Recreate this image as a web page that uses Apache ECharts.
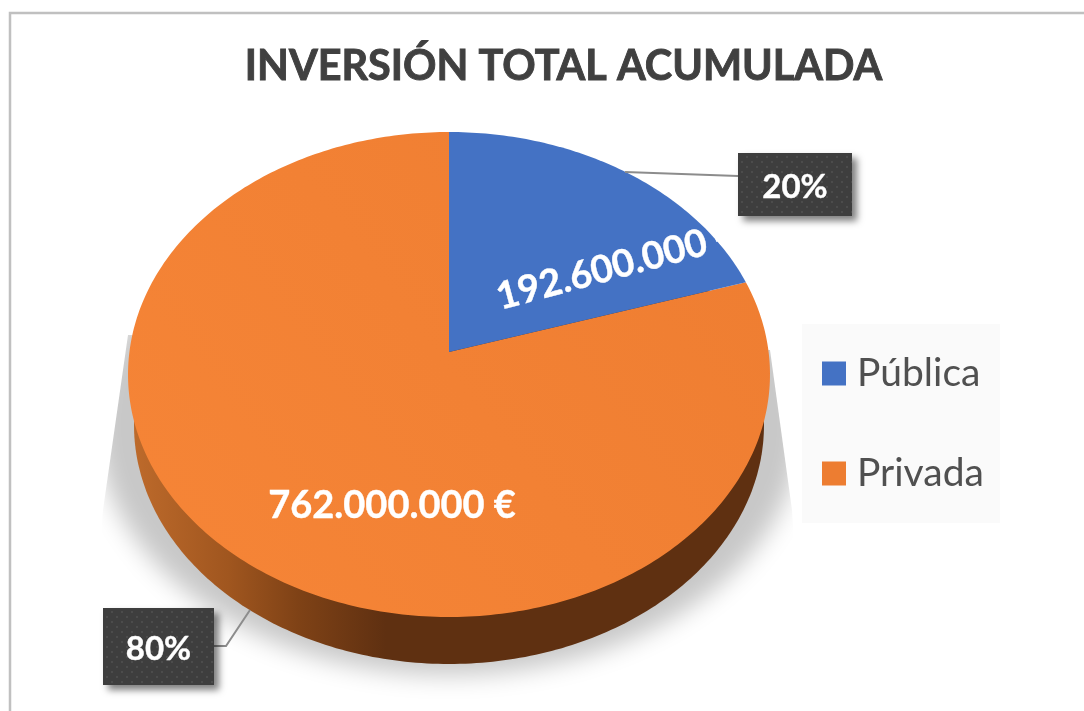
<!DOCTYPE html>
<html><head><meta charset="utf-8">
<style>html,body{margin:0;padding:0;background:#fff}#c{width:1084px;height:711px}</style>
<script src="https://cdn.jsdelivr.net/npm/echarts@6/dist/echarts.min.js"></script>
</head><body><div id="c"></div>
<script>
// ---- data ----
const categories = ['Pública', 'Privada'];
const inversion = [192600000, 762000000];
const titleText = 'INVERSIÓN TOTAL ACUMULADA';

// ---- look ----
const FONT = 'Lato, "Open Sans", sans-serif';
const INK = '#404040';
const BLUE = '#4472C4';
const total = inversion.reduce((a, b) => a + b, 0);

// tilted-disc projection: maps a fraction of the turn onto the perspective rim
const cx = 449, apexY = 352, semiX = 319.6, semiY = 240.4, persp = 0.0928;
function rim(frac) {
  const t = frac * 2 * Math.PI, u = Math.sin(t), v = Math.cos(t), d = 1 + persp * v;
  return [cx + semiX * u / d, apexY - semiY * v / d];
}
function sectorPoints(f0, f1) {
  const pts = [[cx, apexY]], n = Math.max(2, Math.ceil((f1 - f0) * 400));
  for (let i = 0; i <= n; i++) pts.push(rim(f0 + (f1 - f0) * i / n));
  return pts;
}
function ellipse(ex, ey, rx, ry) {
  const pts = [];
  for (let i = 0; i < 360; i++) {
    const t = i / 360 * 2 * Math.PI;
    pts.push([ex + rx * Math.cos(t), ey + ry * Math.sin(t)]);
  }
  return pts;
}
const moneyText = v => String(v).replace(/\B(?=(\d{3})+$)/g, '.') + ' €';
const pctText = v => Math.round(v / total * 100) + '%';

// dotted texture of the callouts
const tex = document.createElement('canvas'); tex.width = 10; tex.height = 10;
(function () {
  const g = tex.getContext('2d');
  g.fillStyle = '#3e3e3e'; g.fillRect(0, 0, 10, 10);
  g.fillStyle = '#4c4c4c';
  [[1, 1], [6, 6]].forEach(p => g.fillRect(p[0], p[1], 2, 2));
})();

function callout(x, y, w, h, text, line) {
  return [
    { type: 'polyline', shape: { points: line }, style: { stroke: '#8c8c8c', lineWidth: 2, fill: 'none' } },
    { type: 'rect', shape: { x, y, width: w, height: h },
      style: { fill: { image: tex, repeat: 'repeat' }, shadowColor: 'rgba(0,0,0,0.5)', shadowBlur: 7, shadowOffsetX: 5, shadowOffsetY: 5 } },
    { type: 'text', x: x + w / 2, y: y + h / 2 + 2.5,
      style: { text, fill: '#fff', font: 'bold 33px ' + FONT, align: 'center', verticalAlign: 'middle', stroke: '#fff', lineWidth: 0.4 } }
  ];
}

const layouts = [
  { label: { x: 617, y: 266, rot: 15 }, box: [738, 153, 114, 63], line: [[625, 172], [738, 176]] },
  { label: { x: 392, y: 506, rot: 0 }, box: [103, 608, 111, 77], line: [[250, 610], [226, 646], [214, 646]] }
];

function sliceSeries(i, color) {
  const before = inversion.slice(0, i).reduce((a, b) => a + b, 0);
  return {
    type: 'custom', name: categories[i], coordinateSystem: 'none',
    itemStyle: { color: i === 0 ? BLUE : '#ED7D31' }, z: 3 + (1 - i), silent: true,
    data: [[inversion[i]]],
    renderItem(params, api) {
      const v = api.value(0), L = layouts[i];
      return { type: 'group', children: [
        { type: 'polygon', shape: { points: sectorPoints(before / total, (before + v) / total) }, style: { fill: color } },
        { type: 'text', x: L.label.x, y: L.label.y, rotation: L.label.rot * Math.PI / 180,
          style: { text: moneyText(v), fill: '#fff', font: 'bold 38px ' + FONT, align: 'center', verticalAlign: 'middle', stroke: '#fff', lineWidth: 0.4 } },
        ...callout(L.box[0], L.box[1], L.box[2], L.box[3], pctText(v), L.line)
      ] };
    }
  };
}

const OFF = 3000; // the shadow caster sits off-canvas, so only its soft shadow shows
const chart = echarts.init(document.getElementById('c'), null, { renderer: 'canvas' });
chart.setOption({
  animation: false,
  backgroundColor: '#ffffff',
  title: { text: titleText, left: 558.5, top: 41, textAlign: 'center',
    textStyle: { fontFamily: FONT, fontWeight: 'bold', fontSize: 41.4, color: INK, textBorderColor: INK, textBorderWidth: 0.9 } },
  legend: {
    data: categories, orient: 'vertical', left: 802, top: 324, icon: 'rect',
    itemWidth: 24, itemHeight: 24, itemGap: 61, selectedMode: false,
    backgroundColor: '#fafafa', padding: [30, 16, 30, 20],
    textStyle: { fontFamily: FONT, fontSize: 39, color: '#505050', padding: [0, 0, 0, 6] }
  },
  graphic: [
    { type: 'polyline', shape: { points: [[10, 711], [10, 13], [1084, 13]] },
      style: { stroke: '#c0c0c0', lineWidth: 2.5, fill: 'none' }, silent: true }
  ],
  series: [
    { // soft floor shadow and the side wall of the disc
      type: 'custom', name: 'base', coordinateSystem: 'none', silent: true, z: 1,
      data: [[total]],
      renderItem() {
        return { type: 'group', children: [
          { type: 'polygon', shape: { points: ellipse(449 - OFF, 425, 352, 250) },
            style: { fill: '#cdcdcd', shadowColor: '#c8c8c8', shadowBlur: 24, shadowOffsetX: OFF },
            clipPath: { type: 'polygon', shape: { points: [[128, 335], [770, 350], [792, 510], [805, 711], [85, 711], [103, 510]] } } },
          { type: 'polygon', shape: { points: ellipse(449, 425, 315, 239) },
            style: { fill: { type: 'linear', x: 0, y: 0, x2: 1, y2: 0, colorStops: [
              { offset: 0, color: '#bd6a2b' }, { offset: 0.15, color: '#a0561f' },
              { offset: 0.26, color: '#7f4216' }, { offset: 0.40, color: '#5f3011' }, { offset: 1, color: '#5f3011' }] } } }
        ] };
      }
    },
    sliceSeries(0, BLUE),
    sliceSeries(1, { type: 'linear', x: 0, y: 1, x2: 1, y2: 0, colorStops: [
      { offset: 0, color: '#F68537' }, { offset: 1, color: '#EE7D31' }] })
  ]
});
</script></body></html>
